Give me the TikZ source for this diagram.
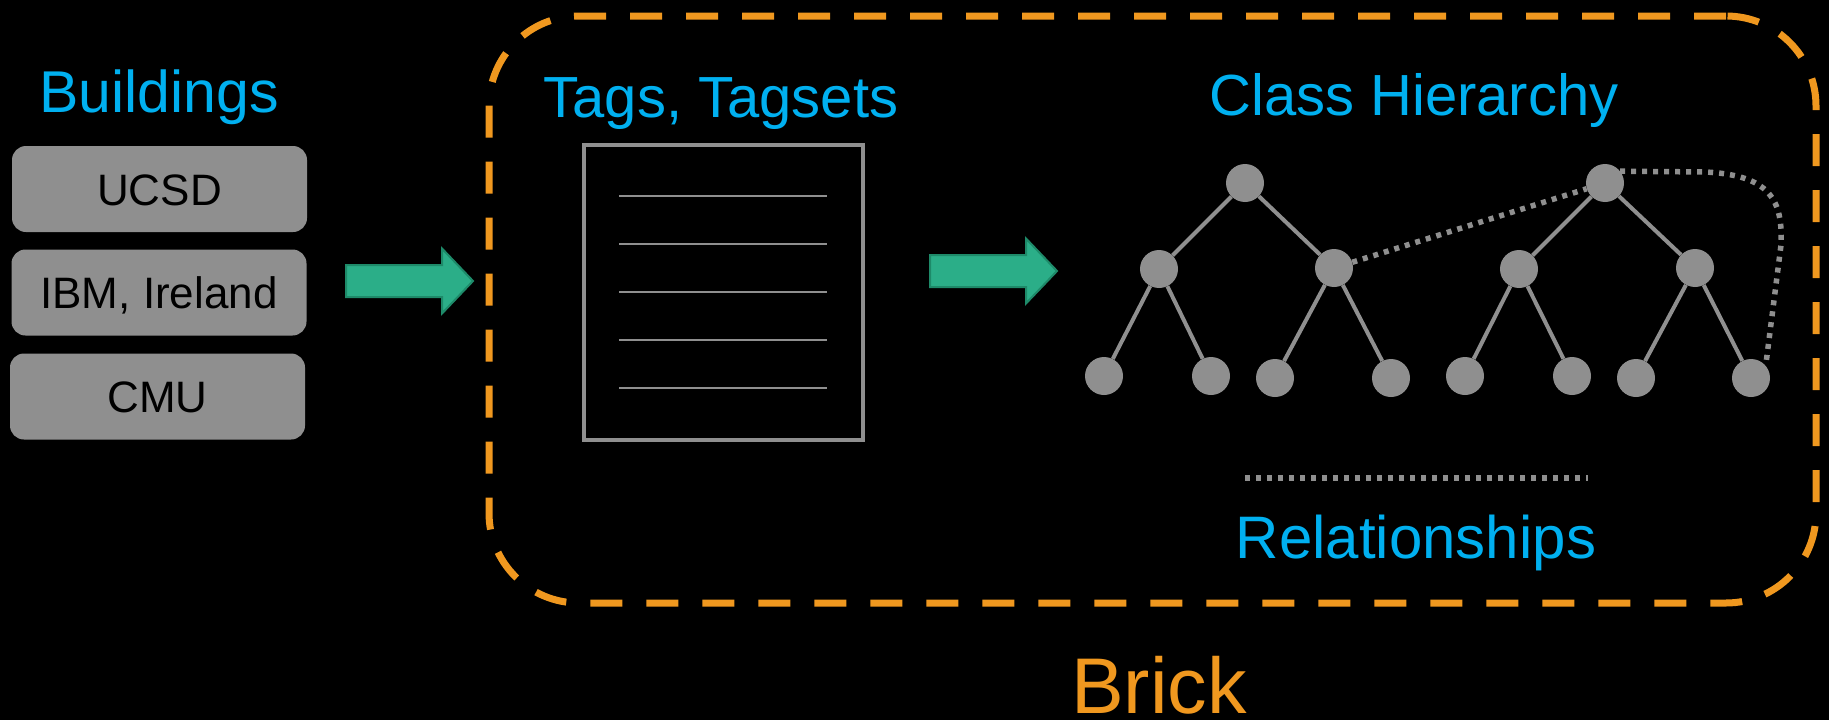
\documentclass[tikz,border=0pt]{standalone}
\usepackage{fontspec}
\setmainfont{Liberation Sans}
\definecolor{skyblue}{HTML}{00B0F0}
\definecolor{brickorange}{HTML}{F0981F}
\definecolor{midgray}{HTML}{8F8F8F}
\definecolor{tealfill}{HTML}{2BAE88}
\definecolor{tealline}{HTML}{1E8A69}
\begin{document}
\begin{tikzpicture}[x=1pt,y=-1pt,
  title/.style={text=skyblue, anchor=base, inner sep=0pt},
  bldg/.style={fill=midgray, rounded corners=14pt, minimum width=295pt, minimum height=86pt, inner sep=0pt, text height=32pt, text depth=0pt, font=\fontsize{44}{50}\selectfont, text=black},
  treenode/.style={circle, fill=midgray, minimum size=38pt, inner sep=0pt},
  treeedge/.style={draw=midgray, line width=4pt},
  relline/.style={draw=midgray, line width=5.5pt, dash pattern=on 5pt off 6pt},
  brickbox/.style={draw=brickorange, line width=7pt, dash pattern=on 32pt off 24pt, rounded corners=90pt, minimum width=1327pt, minimum height=587pt, inner sep=0pt},
  docline/.style={draw=midgray, line width=2.5pt},
  blockarrow/.pic={\fill[tealfill, draw=tealline, line width=2pt] (0,-16) -- (96,-16) -- (96,-32.5) -- (127,0) -- (96,32.5) -- (96,16) -- (0,16) -- cycle;}
]
\useasboundingbox (0,0) rectangle (1829,720);
\fill[black] (0,0) rectangle (1829,720);

% Buildings column
\node[title, font=\fontsize{59}{70}\selectfont] (buildings) at (159,112) {Buildings};
\node[bldg] (ucsd) at (159.5,189) {UCSD};
\node[bldg] (ibm) at (159,292.5) {IBM, Ireland};
\node[bldg] (cmu) at (157.5,396.5) {CMU};

% arrows
\pic at (346,281) {blockarrow};
\pic at (930,271) {blockarrow};

% Brick dashed box
\node[brickbox] (brick) at (1152.5,309.5) {};
\node[text=brickorange, anchor=base, inner sep=0pt, font=\fontsize{79}{90}\selectfont] (bricklabel) at (1159,713) {Brick};

% Tags
\node[title, font=\fontsize{58}{68}\selectfont] (tags) at (721,117) {Tags, Tagsets};
\node[draw=midgray, line width=4pt, minimum width=279pt, minimum height=295pt, inner sep=0pt] (doc) at (723.5,292.5) {};
\foreach \yy in {196,244,292,340,388} {
  \draw[docline] (619,\yy) -- (827,\yy);
}

% Class hierarchy
\node[title, font=\fontsize{58}{68}\selectfont] (classh) at (1414,115) {Class Hierarchy};
\node[treenode] (r1) at (1245,183) {};
\node[treenode] (r2) at (1605,183) {};
\node[treenode] (m1) at (1159,269) {};
\node[treenode] (m2) at (1334,268) {};
\node[treenode] (m3) at (1519,269) {};
\node[treenode] (m4) at (1695,268) {};
\node[treenode] (l1) at (1104,376) {};
\node[treenode] (l2) at (1211,376) {};
\node[treenode] (l3) at (1275,378) {};
\node[treenode] (l4) at (1391,378) {};
\node[treenode] (l5) at (1465,376) {};
\node[treenode] (l6) at (1572,376) {};
\node[treenode] (l7) at (1636,378) {};
\node[treenode] (l8) at (1751,378) {};
\draw[treeedge] (r1) -- (m1);
\draw[treeedge] (r1) -- (m2);
\draw[treeedge] (m1) -- (l1);
\draw[treeedge] (m1) -- (l2);
\draw[treeedge] (m2) -- (l3);
\draw[treeedge] (m2) -- (l4);
\draw[treeedge] (r2) -- (m3);
\draw[treeedge] (r2) -- (m4);
\draw[treeedge] (m3) -- (l5);
\draw[treeedge] (m3) -- (l6);
\draw[treeedge] (m4) -- (l7);
\draw[treeedge] (m4) -- (l8);
\draw[relline] (m2) -- (r2);
\draw[relline] (r2.38) -- (1705,172) .. controls (1770,175) and (1783,200) .. (1781,245) -- (l8.40);

% Relationships legend
\coordinate (relA) at (1245,478);
\coordinate (relB) at (1588,478);
\draw[relline] (relA) -- (relB);
\node[title, font=\fontsize{60}{70}\selectfont] (rel) at (1416,558) {Relationships};
\end{tikzpicture}
\end{document}
